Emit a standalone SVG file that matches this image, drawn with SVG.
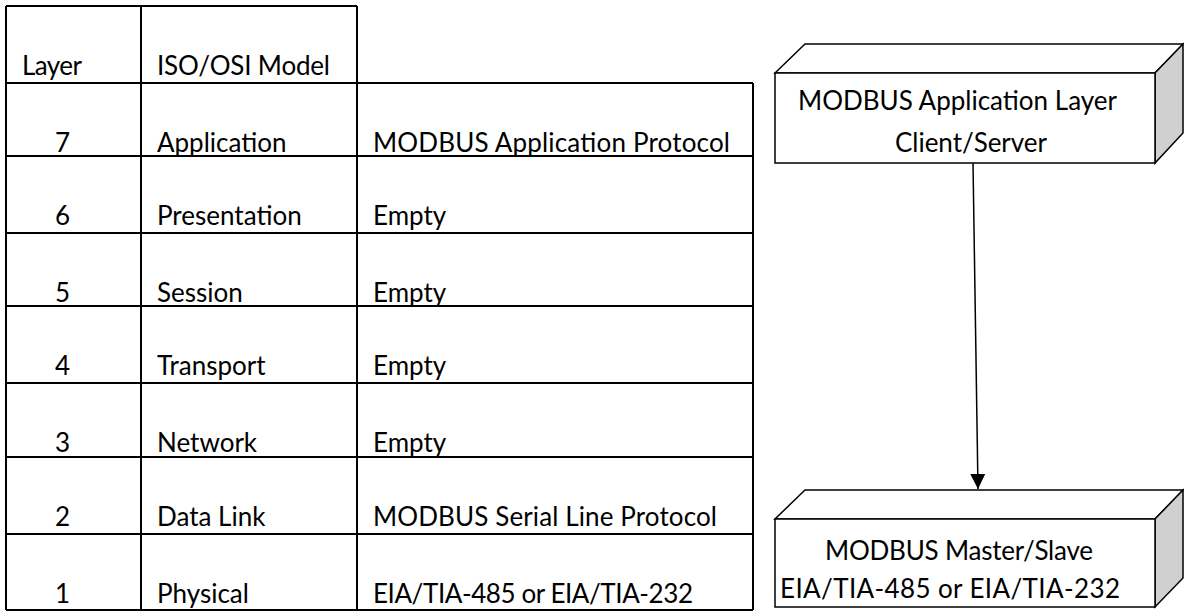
<svg xmlns="http://www.w3.org/2000/svg" width="1184" height="611" viewBox="0 0 1184 611">
<style>
  text { font-family: Lato, "Liberation Sans", sans-serif; font-size: 26px; fill: #000; }
  .grid { stroke: #000; stroke-width: 2; fill: none; }
  .face { fill: #fff; stroke: #000; stroke-width: 1.5; stroke-linejoin: miter; }
  .side { fill: #d0d0d0; stroke: #000; stroke-width: 1.5; }
  .conn { stroke: #000; stroke-width: 1.5; fill: none; }
</style>
<defs>
  <marker id="arrow" markerUnits="userSpaceOnUse" markerWidth="16" markerHeight="16" viewBox="0 0 16 16" refX="15" refY="8" orient="auto">
    <path d="M0,0.5 L15,8 L0,15.5 Z" fill="#000"/>
  </marker>
</defs>
<rect width="1184" height="611" fill="#fff"/>
<g id="table">
  <path class="grid" d="M6,6 H357 M6,83 H753 M6,156 H753 M6,233 H753 M6,306 H753 M6,383 H753 M6,457 H753 M6,534 H753 M6,610 H753 M6,6 V610 M141,6 V610 M357,6 V610 M753,83 V610"/>
  <text x="22" y="75" textLength="60">Layer</text>
  <text x="157" y="75" textLength="173">ISO/OSI Model</text>
  <text x="55" y="152">7</text><text x="157" y="152">Application</text><text x="373" y="152" textLength="357">MODBUS Application Protocol</text>
  <text x="55" y="225">6</text><text x="157" y="225">Presentation</text><text x="373" y="225">Empty</text>
  <text x="55" y="302">5</text><text x="157" y="302">Session</text><text x="373" y="302">Empty</text>
  <text x="55" y="375">4</text><text x="157" y="375">Transport</text><text x="373" y="375">Empty</text>
  <text x="55" y="452">3</text><text x="157" y="452">Network</text><text x="373" y="452">Empty</text>
  <text x="55" y="526">2</text><text x="157" y="526">Data Link</text><text x="373" y="526" textLength="344">MODBUS Serial Line Protocol</text>
  <text x="55" y="603">1</text><text x="157" y="603">Physical</text><text x="373" y="603" textLength="320">EIA/TIA-485 or EIA/TIA-232</text>
</g>
<g id="app-layer">
  <polygon class="face" points="775,73 805,44 1183,44 1155,73"/>
  <polygon class="side" points="1155,73 1183,44 1183,133 1155,163"/>
  <rect class="face" x="775" y="73" width="380" height="90"/>
  <text x="798" y="110" textLength="319">MODBUS Application Layer</text>
  <text x="895" y="152" textLength="152">Client/Server</text>
</g>
<g id="master-slave">
  <polygon class="face" points="775,519 805,490 1183,490 1155,519"/>
  <polygon class="side" points="1155,519 1183,490 1183,578 1155,607"/>
  <rect class="face" x="775" y="519" width="380" height="88"/>
  <text x="825" y="560" textLength="268">MODBUS Master/Slave</text>
  <text x="780" y="598" textLength="340">EIA/TIA-485 or EIA/TIA-232</text>
</g>
<g id="connectors">
  <path class="conn" d="M973,163 L978,489" marker-end="url(#arrow)"/>
</g>
</svg>
